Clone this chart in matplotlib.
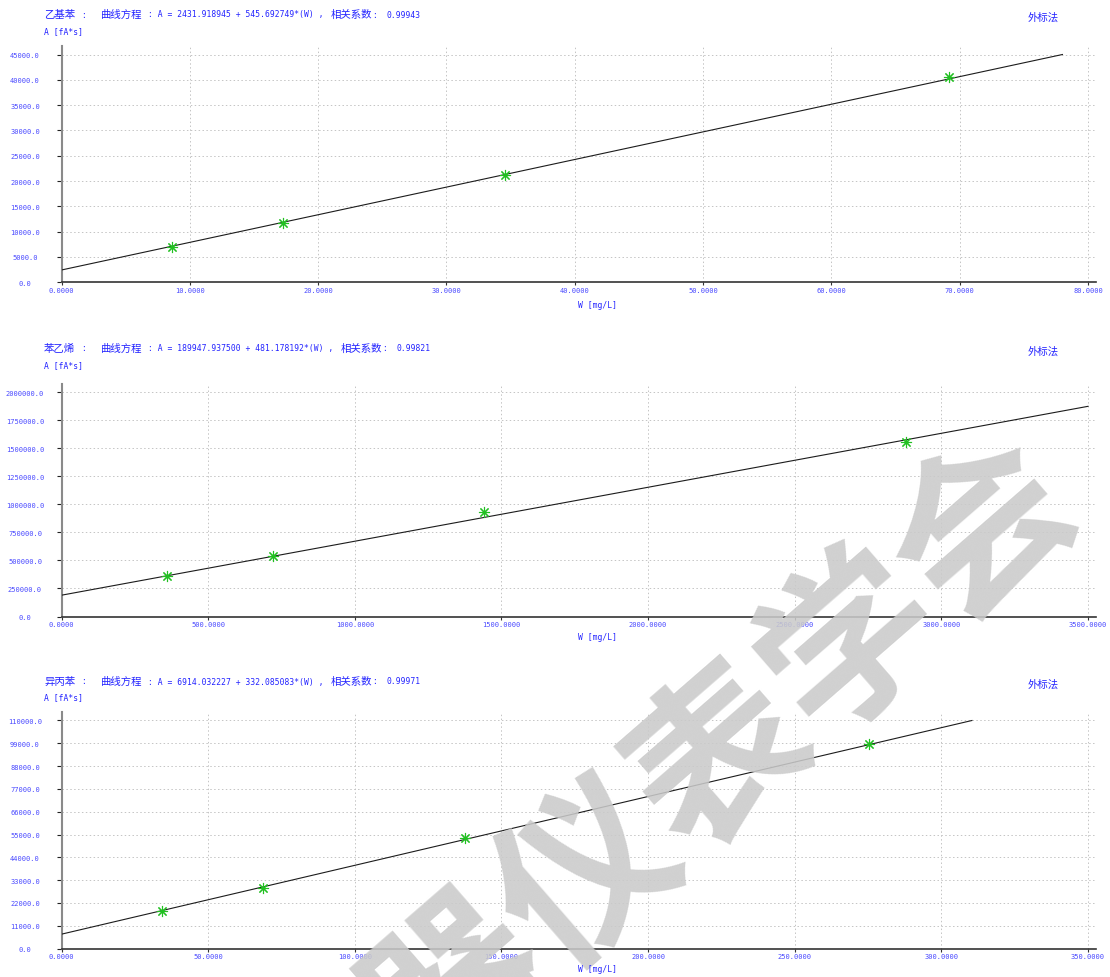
import matplotlib
matplotlib.use("Agg")
import matplotlib.pyplot as plt
from matplotlib.font_manager import FontProperties
import numpy as np

W_PX, H_PX, DPI = 1110, 978, 100

# ---- calibration data -------------------------------------------------------
names = ["乙基苯", "苯乙烯", "异丙苯"]
intercepts = [2431.918945, 189947.937500, 6914.032227]
slopes = [545.692749, 481.178192, 332.085083]
corr_coef = [0.99943, 0.99821, 0.99971]

conc_ethylbenzene = [8.65, 17.3, 34.6, 69.2]
area_ethylbenzene = [6970, 11700, 21180, 40520]

conc_styrene = [360, 720, 1440, 2880]
area_styrene = [361600, 540000, 933000, 1558000]

conc_cumene = [34.4, 68.8, 137.6, 275.2]
area_cumene = [18100, 29200, 53300, 98700]

x_ticks_ethylbenzene = [0, 10, 20, 30, 40, 50, 60, 70, 80]
y_ticks_ethylbenzene = [0, 5000, 10000, 15000, 20000, 25000, 30000, 35000, 40000, 45000]
x_ticks_styrene = [0, 500, 1000, 1500, 2000, 2500, 3000, 3500]
y_ticks_styrene = [0, 250000, 500000, 750000, 1000000, 1250000, 1500000, 1750000, 2000000]
x_ticks_cumene = [0, 50, 100, 150, 200, 250, 300, 350]
y_ticks_cumene = [0, 11000, 22000, 33000, 44000, 55000, 66000, 77000, 88000, 99000, 110000]

method_label = "外标法"
x_label = "W [mg/L]"
y_label = "A [fA*s]"
watermark = "器仪表学会"

# ---- styling ---------------------------------------------------------------
BLUE = "#2424ff"
TICK_BLUE = "#4a4aff"
cjk = FontProperties(family="Noto Sans CJK SC", size=7.5)
mono = FontProperties(family="DejaVu Sans Mono", size=5.8)
tick_font = FontProperties(family="DejaVu Sans Mono", size=5.0)

fig = plt.figure(figsize=(W_PX / DPI, H_PX / DPI), dpi=DPI)
fig.patch.set_facecolor("white")


def fx(px):
    return px / W_PX


def fy(px):
    return 1 - px / H_PX


# panel geometry in pixels: (top, bottom) of each plot area and header rows
panels = [
    dict(top=47.3, bottom=283.3, title_y=15, alabel_y=32, wlabel_y=305, method_y=18,
         conc=conc_ethylbenzene, area=area_ethylbenzene,
         xt=x_ticks_ethylbenzene, yt=y_ticks_ethylbenzene),
    dict(top=385.0, bottom=617.5, title_y=348.5, alabel_y=365.5, wlabel_y=638, method_y=352,
         conc=conc_styrene, area=area_styrene,
         xt=x_ticks_styrene, yt=y_ticks_styrene),
    dict(top=713.3, bottom=949.5, title_y=682, alabel_y=698, wlabel_y=970, method_y=685,
         conc=conc_cumene, area=area_cumene,
         xt=x_ticks_cumene, yt=y_ticks_cumene),
]

LEFT_PX, RIGHT_PX, LAST_TICK_PX = 61.5, 1096.0, 1088.0
TOP_MARGIN_PX = 8.2


def place_after(ax, prev, text, fp, gap_px):
    return ax.annotate(text, xy=(1, 0.5), xycoords=prev,
                       xytext=(gap_px * 72 / DPI, 0), textcoords="offset points",
                       ha="left", va="center", color=BLUE, fontproperties=fp,
                       annotation_clip=False)


for i, p in enumerate(panels):
    h_px = p["bottom"] - p["top"]
    ax = fig.add_axes([fx(LEFT_PX), fy(p["bottom"]),
                       fx(RIGHT_PX - LEFT_PX), h_px / H_PX])
    xmax = p["xt"][-1]
    ymax = p["yt"][-1]
    ax.set_xlim(0, xmax * (RIGHT_PX - LEFT_PX) / (LAST_TICK_PX - LEFT_PX))
    ax.set_ylim(0, ymax * h_px / (h_px - TOP_MARGIN_PX))

    # fitted calibration line from the stated equation
    a, b = intercepts[i], slopes[i]
    w_end = min(xmax, (ymax - a) / b)
    wl = np.array([0.0, w_end])
    ax.plot(wl, a + b * wl, color="#1c1c1c", lw=0.8, zorder=3)

    # calibration points
    ax.plot(p["conc"], p["area"], linestyle="none", marker=(8, 2, 0), ms=8,
            mew=0.8, color="#22c022", zorder=4)

    # grid
    for xv in p["xt"][1:]:
        ax.axvline(xv, color="#c4c4c4", lw=0.7, ls=(0, (1.5, 2.5)), zorder=1)
    for yv in p["yt"][1:]:
        ax.axhline(yv, color="#c4c4c4", lw=0.7, ls=(0, (1.5, 2.5)), zorder=1)

    # spines
    for s in ("top", "right"):
        ax.spines[s].set_visible(False)
    ax.spines["left"].set_color("#8a8a8a")
    ax.spines["left"].set_linewidth(1.5)
    ax.spines["bottom"].set_color("#333333")
    ax.spines["bottom"].set_linewidth(1.2)

    # ticks
    ax.set_xticks(p["xt"])
    ax.set_xticklabels([f"{v:.4f}" for v in p["xt"]])
    ax.set_yticks(p["yt"])
    ax.set_yticklabels([f"{v:.1f}" for v in p["yt"]])
    ax.tick_params(axis="x", direction="out", length=2.2, width=0.8, color="#333333",
                   pad=1.0, labelcolor=TICK_BLUE)
    ax.tick_params(axis="y", direction="out", length=3.6, width=0.8, color="#222222",
                   pad=22.7, labelcolor=TICK_BLUE)
    for lab in ax.get_yticklabels():
        lab.set_fontproperties(tick_font)
        lab.set_horizontalalignment("center")
    for lab in ax.get_xticklabels():
        lab.set_fontproperties(tick_font)

    # header row: compound name, equation and correlation coefficient
    t = fig.text(fx(44), fy(p["title_y"]), names[i], fontproperties=cjk,
                 color=BLUE, ha="left", va="center")
    t = place_after(ax, t, ":", mono, 6)
    t = place_after(ax, t, "曲线方程", cjk, 15)
    t = place_after(ax, t, f": A = {a:.6f} + {b:.6f}*(W) ,", mono, 6)
    t = place_after(ax, t, "相关系数", cjk, 7)
    t = place_after(ax, t, ":", mono, 0)
    t = place_after(ax, t, f"{corr_coef[i]:.5f}", mono, 9)

    fig.text(fx(44), fy(p["alabel_y"]), y_label, fontproperties=mono,
             color=BLUE, ha="left", va="center", zorder=5)
    fig.text(fx(1028), fy(p["method_y"]), method_label, fontproperties=cjk,
             color=BLUE, ha="left", va="center", zorder=5)
    fig.text(fx(598), fy(p["wlabel_y"]), x_label, fontproperties=mono,
             color=BLUE, ha="center", va="center", zorder=5)

# watermark across the lower panels
fig.text(fx(722), fy(762), watermark, family="Noto Sans CJK SC", weight="bold",
         fontsize=126, rotation=41, rotation_mode="anchor", ha="center", va="center",
         color="#cacaca", alpha=0.88, zorder=2)

fig.savefig("out.png", dpi=DPI)
